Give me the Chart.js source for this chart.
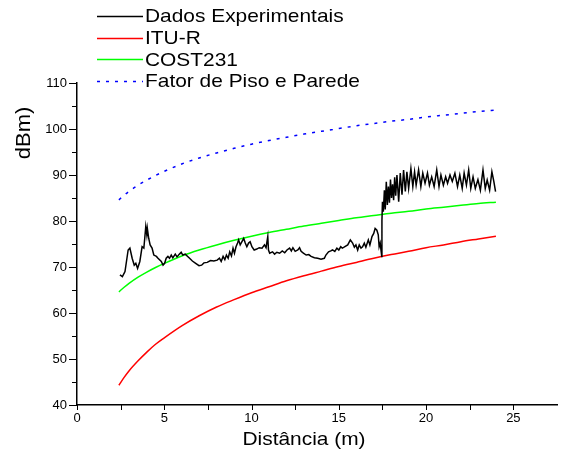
<!DOCTYPE html>
<html><head><meta charset="utf-8">
<script src="https://cdn.jsdelivr.net/npm/chart.js@4.4.0/dist/chart.umd.min.js"></script>
<style>html,body{margin:0;padding:0;background:#fff}</style>
</head><body>
<canvas id="chart" width="563" height="453"></canvas>
<script>
// DATA
const expDist=[2.46,2.60,2.75,2.93,3.03,3.16,3.28,3.37,3.47,3.60,3.73,3.83,3.88,3.94,4.00,4.03,4.11,4.19,4.30,4.40,4.55,4.64,4.83,4.93,5.02,5.11,5.21,5.30,5.40,5.49,5.63,5.73,5.87,5.97,6.06,6.20,6.34,6.42,6.61,6.80,6.99,7.14,7.27,7.46,7.65,7.84,8.03,8.16,8.26,8.37,8.47,8.56,8.66,8.75,8.85,8.94,9.02,9.11,9.20,9.26,9.35,9.45,9.55,9.64,9.73,9.83,9.92,10.02,10.15,10.30,10.44,10.60,10.74,10.83,10.93,10.97,11.04,11.20,11.32,11.45,11.61,11.76,11.90,12.03,12.18,12.28,12.37,12.50,12.65,12.75,12.84,12.97,13.13,13.28,13.41,13.60,13.79,13.98,14.17,14.26,14.41,14.54,14.64,14.77,14.89,15.00,15.11,15.20,15.30,15.51,15.66,15.79,15.89,15.98,16.08,16.17,16.27,16.36,16.46,16.55,16.69,16.78,16.90,17.00,17.08,17.18,17.26,17.31,17.37,17.46,17.47,17.50,17.55,17.61,17.66,17.72,17.78,17.84,17.90,17.96,18.02,18.08,18.14,18.20,18.26,18.33,18.43,18.52,18.62,18.71,18.81,18.90,19.00,19.13,19.24,19.34,19.43,19.57,19.70,19.81,19.94,20.08,20.19,20.32,20.46,20.61,20.74,20.85,20.99,21.12,21.23,21.37,21.50,21.65,21.80,21.93,22.07,22.18,22.31,22.44,22.56,22.69,22.82,22.97,23.11,23.26,23.39,23.50,23.64,23.77,23.88,23.98];
const expPower=[68.3,67.9,69.0,73.7,74.1,71.9,70.4,70.8,69.7,71.2,74.4,74.1,76.2,78.8,77.0,78.4,76.2,74.8,74.1,72.6,72.3,71.9,71.2,70.4,70.8,71.9,72.3,71.9,72.6,72.0,72.8,72.2,72.8,73.2,72.6,72.8,72.3,72.0,71.3,70.8,70.3,70.4,70.9,71.0,71.4,71.3,71.5,71.9,71.2,72.3,71.6,72.6,71.9,73.3,72.4,74.1,73.0,74.4,75.2,75.9,74.8,75.5,76.2,75.2,74.4,75.2,75.5,74.4,73.7,73.9,74.2,74.1,74.8,74.2,76.6,73.7,73.0,73.3,72.8,73.2,73.0,73.5,73.1,73.7,74.1,73.5,74.2,73.4,73.7,74.2,73.4,73.0,72.6,72.7,72.3,72.0,71.9,71.7,71.9,72.6,73.3,73.5,73.7,73.4,74.1,73.7,74.4,74.1,74.3,74.8,75.9,75.2,74.3,74.8,73.7,74.8,74.1,74.4,75.2,74.3,75.9,74.8,76.6,77.3,78.4,78.0,77.0,74.4,75.2,72.3,80.0,84.2,82.0,86.7,82.5,88.5,83.5,87.5,84.0,89.0,85.0,88.0,84.5,89.5,85.5,90.0,84.2,90.4,85.7,91.1,86.4,90.7,87.1,91.4,87.5,90.7,87.8,91.1,87.5,90.4,88.2,90.4,87.8,89.6,87.5,91.1,87.5,90.0,87.8,89.6,88.2,90.0,88.6,90.4,87.5,90.0,87.1,90.4,87.8,91.1,87.1,89.6,87.1,89.0,86.7,91.1,87.1,88.9,86.7,90.7,88.6,86.4];

const modelDist=[2.4,2.7,3,3.5,4,4.5,5,6,7,8,9,10,11,12,13,14,15,16,17,18,19,20,21,22,23,24];
const ituR=[44.3,46.0,47.5,49.6,51.5,53.2,54.6,57.2,59.4,61.3,62.9,64.4,65.7,67.0,68.1,69.1,70.1,71.0,71.9,72.7,73.4,74.2,74.8,75.5,76.1,76.7];
const cost231=[64.6,65.6,66.5,67.8,68.9,69.9,70.8,72.4,73.7,74.8,75.8,76.7,77.5,78.2,78.9,79.5,80.1,80.7,81.2,81.7,82.1,82.6,83.0,83.4,83.8,84.1];
const fatorPiso=[84.6,85.6,86.5,87.8,88.9,89.9,90.8,92.4,93.7,94.8,95.8,96.7,97.5,98.2,98.9,99.5,100.1,100.7,101.2,101.7,102.1,102.6,103.0,103.4,103.8,104.1];

const seriesLabels=["Dados Experimentais","ITU-R","COST231","Fator de Piso e Parede"];
const xTitle="Distância (m)";
const yTitle="dBm)";

const FONT="'Liberation Sans', Arial, sans-serif";
const pts=(xs,ys)=>xs.map((v,i)=>({x:v,y:ys[i]}));

// stretched text, like the original plot's wide lettering
function wideText(ctx,txt,x,y,rot){
  ctx.save();
  ctx.translate(x,y);
  if(rot) ctx.rotate(rot);
  ctx.scale(1.1,1);
  ctx.fillText(txt,0,0);
  ctx.restore();
}

// LEGEND + TICKS + TITLES
const decor={
  id:"decor",
  afterDraw(chart){
    const {ctx,chartArea:a,scales:{x,y}}=chart;
    ctx.save();
    ctx.strokeStyle="#000"; ctx.lineWidth=1;
    x.ticks.forEach(t=>{
      if(t.value>25) return;
      const px=Math.round(x.getPixelForValue(t.value))+0.5;
      ctx.beginPath(); ctx.moveTo(px,a.bottom); ctx.lineTo(px,a.bottom+5); ctx.stroke();
    });
    y.ticks.forEach(t=>{
      const py=Math.round(y.getPixelForValue(t.value))+0.5;
      const len=t.value%10===0?8:5;
      ctx.beginPath(); ctx.moveTo(a.left-len,py); ctx.lineTo(a.left,py); ctx.stroke();
    });

    // titles
    ctx.fillStyle="#000";
    ctx.textAlign="center"; ctx.textBaseline="middle";
    ctx.font="19px "+FONT;
    wideText(ctx,xTitle,304,440);
    ctx.font="20px "+FONT;
    wideText(ctx,yTitle,24,133,-Math.PI/2);

    // legend
    ctx.font="19px "+FONT;
    chart.data.datasets.forEach((ds,i)=>{
      const ly=Math.round(15.7+i*21.8)+0.5;
      ctx.strokeStyle=ds.borderColor; ctx.lineWidth=ds.borderWidth;
      ctx.setLineDash(ds.borderDash||[]);
      ctx.beginPath(); ctx.moveTo(97,ly); ctx.lineTo(143,ly); ctx.stroke();
      ctx.setLineDash([]);
      ctx.fillStyle="#000"; ctx.textAlign="left";
      wideText(ctx,ds.label,145,16.7+i*21.8);
    });
    ctx.restore();
  }
};

new Chart(document.getElementById("chart"),{
  type:"line",
  data:{datasets:[
    {label:seriesLabels[0],data:pts(expDist,expPower),borderColor:"#000",borderWidth:1.5,pointRadius:0,tension:0},
    {label:seriesLabels[1],data:pts(modelDist,ituR),borderColor:"#ff0000",borderWidth:1.5,pointRadius:0,cubicInterpolationMode:"monotone"},
    {label:seriesLabels[2],data:pts(modelDist,cost231),borderColor:"#00ff00",borderWidth:1.5,pointRadius:0,cubicInterpolationMode:"monotone"},
    {label:seriesLabels[3],data:pts(modelDist,fatorPiso),borderColor:"#0000ff",borderWidth:1.5,borderDash:[3,6],pointRadius:0,cubicInterpolationMode:"monotone"}
  ]},
  options:{
    responsive:false, animation:false,
    layout:{padding:{top:83,right:3,left:0,bottom:0}},
    plugins:{legend:{display:false},tooltip:{enabled:false}},
    scales:{
      x:{type:"linear",min:0,max:27.5,
        afterFit:s=>{s.height=48;},
        grid:{display:false,drawTicks:false},
        border:{display:true,color:"#000",width:1.5},
        ticks:{stepSize:2.5,autoSkip:false,maxRotation:0,padding:6,color:"#000",font:{family:FONT,size:13},
          callback:v=>(v%5===0&&v<=25)?String(v):""}
      },
      y:{min:40,max:110,
        afterFit:s=>{s.width=77;},
        grid:{display:false,drawTicks:false},
        border:{display:true,color:"#000",width:1.5},
        ticks:{stepSize:5,autoSkip:false,padding:10,color:"#000",font:{family:FONT,size:13},
          callback:v=>v%10===0?String(v):""}
      }
    }
  },
  plugins:[decor]
});
</script>
</body></html>
